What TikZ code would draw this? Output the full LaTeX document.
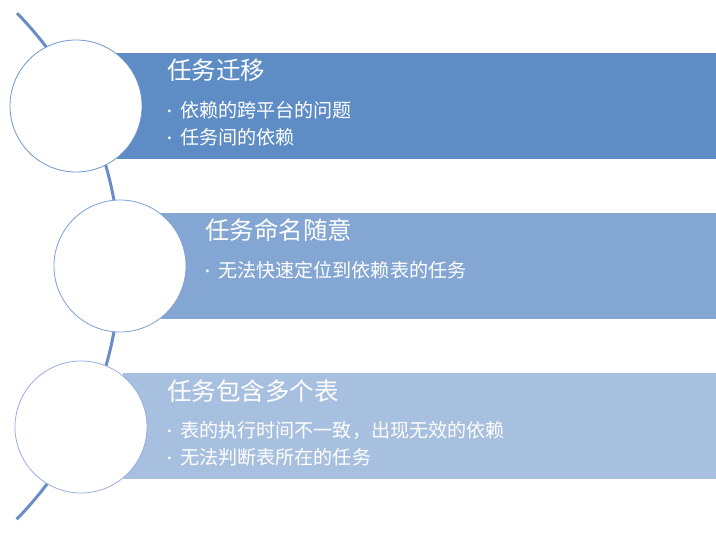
\documentclass[tikz,border=0pt]{standalone}
\usepackage{fontspec}
\setmainfont{Noto Sans CJK SC}
\definecolor{bandA}{HTML}{5E8CC5}
\definecolor{bandB}{HTML}{84A6D2}
\definecolor{bandC}{HTML}{A8C0DF}
\definecolor{arcc}{HTML}{6A8DC8}
\tikzset{
  band/.style={rectangle, anchor=north west, inner sep=0pt, minimum height=106pt},
  ring/.style={circle, draw, fill=white, line width=0.8pt, minimum size=132pt, inner sep=0pt},
  ttl/.style={anchor=base west, inner sep=0pt, text=white, font=\fontsize{24.5}{26}\selectfont},
  itm/.style={anchor=base west, inner sep=0pt, text=white, font=\fontsize{19.1}{20}\selectfont},
}
\newcommand{\bul}{\makebox[13pt][l]{\hspace{0.5pt}\raisebox{5.5pt}{\tikz\fill[white] (0,0) circle (1.6pt);}}}
\begin{document}
\begin{tikzpicture}[x=1pt,y=1pt]
\useasboundingbox (0,0) rectangle (716,-534);
% connecting arc
\draw[arcc, line width=3pt] (-242,-266) ++(44.3:362) arc[start angle=44.3, end angle=-44.4, radius=362];
% bands
\node[band, fill=bandA, minimum width=601pt] (b1) at (115,-53) {};
\node[band, fill=bandB, minimum width=556pt] (b2) at (160,-213) {};
\node[band, fill=bandC, minimum width=593pt] (b3) at (123,-373) {};
% circles
\node[ring, draw=bandA!90!white] (c1) at (76,-106) {};
\node[ring, draw=bandB!95!blue] (c2) at (120,-266) {};
\node[ring, draw=bandC!90!blue] (c3) at (81,-427) {};
% texts
\node[ttl] (t1) at (167,-80) {任务迁移};
\node[itm] (t1a) at (167,-118) {\bul 依赖的跨平台的问题};
\node[itm] (t1b) at (167,-145) {\bul 任务间的依赖};
\node[ttl] (t2) at (205,-240) {任务命名随意};
\node[itm] (t2a) at (205,-278) {\bul 无法快速定位到依赖表的任务};
\node[ttl] (t3) at (167,-401) {任务包含多个表};
\node[itm] (t3a) at (167,-438) {\bul 表的执行时间不一致，出现无效的依赖};
\node[itm] (t3b) at (167,-465) {\bul 无法判断表所在的任务};
\end{tikzpicture}
\end{document}
